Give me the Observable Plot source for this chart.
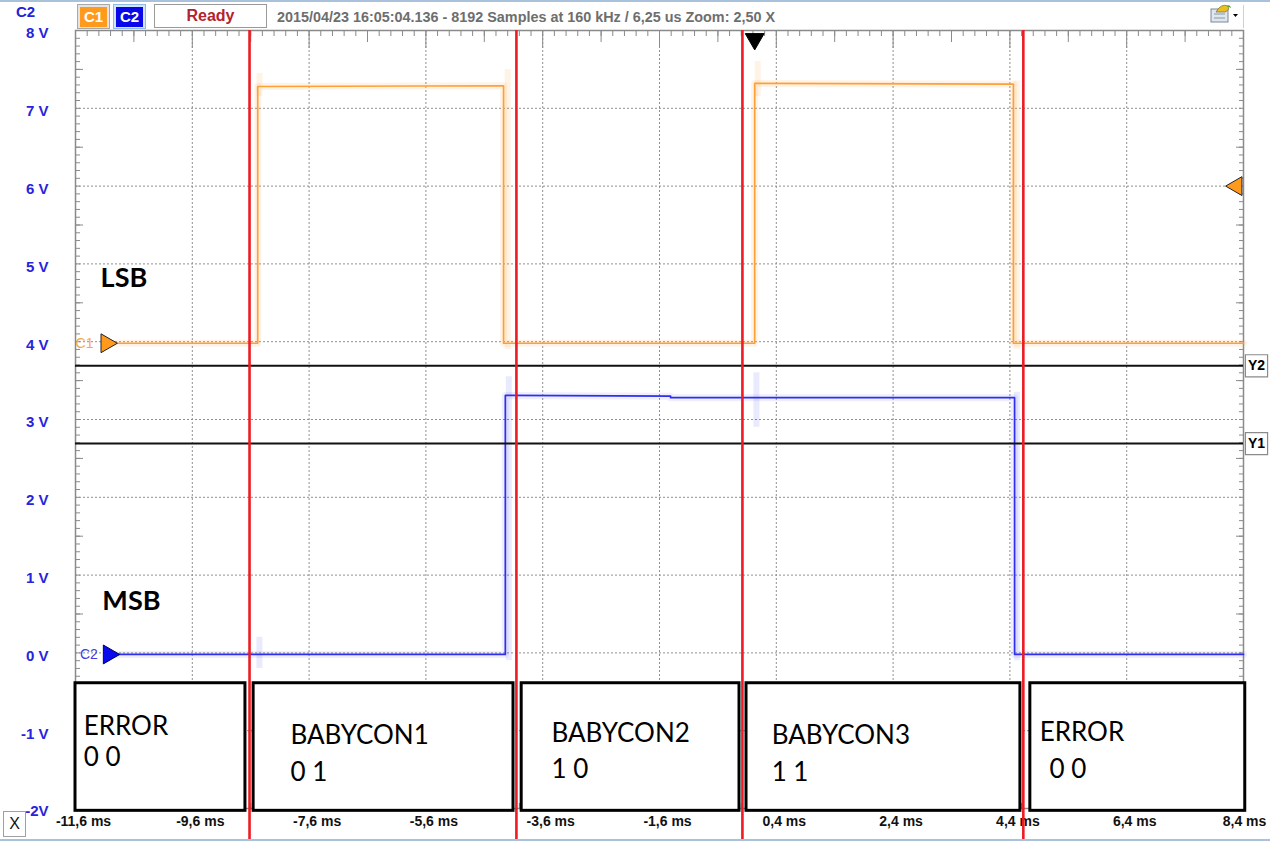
<!DOCTYPE html>
<html><head><meta charset="utf-8">
<script src="https://cdn.jsdelivr.net/npm/d3@7"></script>
<script src="https://cdn.jsdelivr.net/npm/@observablehq/plot@0.6"></script>
<style>
body{margin:0;background:#fff;width:1270px;height:841px;overflow:hidden;position:relative;font-family:"Liberation Sans",Arial,sans-serif;}
#chart{position:absolute;left:0;top:0;}
.a{position:absolute;box-sizing:border-box;}
</style></head><body>
<div id="chart"></div>
<div class="a" style="left:0;top:0;width:1270px;height:2px;background:#aac1dc"></div>
<div class="a" style="left:0;top:839px;width:1270px;height:2px;background:#aac1dc"></div>
<div class="a" style="left:16px;top:3px;font:bold 15px 'Liberation Sans';color:#2323d8">C2</div>
<div class="a" style="left:77px;top:4px;width:33px;height:25px;border:1px solid #a8a8a8;background:#e4e4e4"></div>
<div class="a" style="left:80px;top:7px;width:27px;height:20px;background:#ff9a1c;color:#fff;font:bold 15px 'Liberation Sans';text-align:center;line-height:20px">C1</div>
<div class="a" style="left:113px;top:4px;width:33px;height:25px;border:1px solid #8fbbe8;background:#d3e6f8"></div>
<div class="a" style="left:116px;top:7px;width:27px;height:20px;background:#0808e8;color:#fff;font:bold 15px 'Liberation Sans';text-align:center;line-height:20px">C2</div>
<div class="a" style="left:154px;top:4px;width:113px;height:24px;border:1.5px solid #9a9a9a;background:#fff;color:#b3232c;font:bold 16px 'Liberation Sans';text-align:center;line-height:22px">Ready</div>
<svg class="a" style="left:0;top:0" width="1270" height="30">
<text x="277" y="22" textLength="498" lengthAdjust="spacingAndGlyphs" font-family="Liberation Sans" font-weight="bold" font-size="15" fill="#6e6e6e">2015/04/23 16:05:04.136 - 8192 Samples at 160 kHz / 6,25 us Zoom: 2,50 X</text>
<rect x="1211" y="9" width="17" height="13" fill="#dfe6ee" stroke="#7a8794"/>
<line x1="1214" y1="14" x2="1225" y2="14" stroke="#8899aa"/><line x1="1214" y1="18" x2="1225" y2="18" stroke="#8899aa"/>
<path d="M1216,12 q5,-9 12,-6 q2,4 -3,6 z" fill="#e8c020" stroke="#6b5a10" stroke-width="0.6"/>
<path d="M1227,6 q3,-2 4,2 z" fill="#3aa030"/>
<path d="M1233,14 l5,0 l-2.5,3 z" fill="#000"/>
<line x1="1243.5" y1="5" x2="1243.5" y2="28" stroke="#d0d0d0"/>
</svg>
<div class="a" style="left:3px;top:811px;width:23px;height:26px;border:1px solid #a0a0a0;background:#fff;font:16px 'Liberation Sans';text-align:center;line-height:24px;color:#111">X</div>
<script>
// ---- data ----
const xTicks = [-11.6, -9.6, -7.6, -5.6, -3.6, -1.6, 0.4, 2.4, 4.4, 6.4, 8.4];
const xTickLabels = ["-11,6 ms", "-9,6 ms", "-7,6 ms", "-5,6 ms", "-3,6 ms", "-1,6 ms", "0,4 ms", "2,4 ms", "4,4 ms", "6,4 ms", "8,4 ms"];
const yTicks = [8, 7, 6, 5, 4, 3, 2, 1, 0, -1, -2];
const yTickLabels = ["8 V", "7 V", "6 V", "5 V", "4 V", "3 V", "2 V", "1 V", "0 V", "-1 V", "-2V"];

// C1 (LSB) trace
const c1Time = [-11.07, -8.48, -8.48, -4.27, -4.27, 0.03, 0.03, 4.46, 4.46, 8.4];
const c1Volt = [3.98, 3.98, 7.28, 7.29, 3.98, 3.98, 7.32, 7.31, 3.98, 3.98];
// C2 (MSB) trace
const c2Time = [-11.03, -4.24, -4.24, -1.41, -1.41, 4.48, 4.48, 8.4];
const c2Volt = [-0.02, -0.02, 3.31, 3.30, 3.28, 3.28, -0.02, -0.02];

// faint ringing envelopes at the edges
const c1RingTime = [-8.45, -4.2, 0.08, 4.52];
const c1RingLow = [7.15, 3.9, 7.15, 3.9];
const c1RingHigh = [7.45, 7.5, 7.6, 7.35];
const c2RingTime = [-8.45, -4.18, 0.06, 4.52];
const c2RingLow = [-0.2, -0.1, 2.9, -0.1];
const c2RingHigh = [0.2, 3.55, 3.6, 3.35];

// cursors
const cursorNames = ["Y2", "Y1"];
const cursorVolt = [3.69, 2.69];

// red state boundaries (ms)
const boundaryTime = [-8.62, -4.05, -0.18, 4.63];

// state boxes
const boxStart = [-11.6, -8.55, -3.96, -0.11, 4.75];
const boxEnd = [-8.69, -4.10, -0.23, 4.58, 8.43];
const boxTop = -0.39, boxBottom = -2.03;
const stateNames = ["ERROR", "BABYCON1", "BABYCON2", "BABYCON3", "ERROR"];
const stateCodes = ["0 0", "0 1", "1 0", "1 1", "0 0"];
const nameTime = [-11.46, -7.92, -3.45, 0.32, 4.91];
const nameVolt = [-1.06, -1.165, -1.14, -1.165, -1.126];
const codeTime = [-11.46, -7.92, -3.45, 0.32, 5.08];
const codeVolt = [-1.45, -1.65, -1.61, -1.65, -1.61];

// channel labels
const chanNames = ["LSB", "MSB"];
const chanTime = [-11.17, -11.14];
const chanVolt = [4.7, 0.55];

// markers
const c1Marker = {t: -11.07, v: 3.98};
const c2Marker = {t: -11.03, v: -0.02};
const trigLevel = {t: 8.28, v: 6.0};
const trigTime = {t: 0.03, v: 7.89};

// ---- build ----
const c1 = c1Time.map((t, i) => ({t, v: c1Volt[i]}));
const c2 = c2Time.map((t, i) => ({t, v: c2Volt[i]}));
const c1Ring = c1RingTime.map((t, i) => ({t, lo: c1RingLow[i], hi: c1RingHigh[i]}));
const c2Ring = c2RingTime.map((t, i) => ({t, lo: c2RingLow[i], hi: c2RingHigh[i]}));
const boxes = boxStart.map((s, i) => ({s, e: boxEnd[i]}));
const names = stateNames.map((n, i) => ({n, t: nameTime[i], v: nameVolt[i]}));
const codes = stateCodes.map((n, i) => ({n, t: codeTime[i], v: codeVolt[i]}));
const chans = chanNames.map((n, i) => ({n, t: chanTime[i], v: chanVolt[i]}));
const cursors = cursorNames.map((n, i) => ({n, v: cursorVolt[i]}));

const xMinor = d3.range(0, 101).map(i => -11.6 + i * 0.2);
const xMid = d3.range(0, 10).map(i => -10.6 + i * 2);
const yMinor = d3.range(0, 101).map(i => -2 + i * 0.1);
const yMid = d3.range(0, 10).map(i => -1.5 + i);
const xInner = xTicks.slice(1, -1);
const yInner = yTicks.slice(1, -1);
const xLabelTicks = xTicks.slice(0, -1);
const xLastTick = xTicks.slice(-1);

const ORANGE = "#ffa036", BLUE = "#2e2ef2", RED = "#ec1b24", GRID = "#8f8f8f", AX = "#8a8a8a";
const noText = () => "";
const xFmt = d => xTickLabels[xTicks.indexOf(d)];

const plot = Plot.plot({
  width: 1270, height: 841,
  marginLeft: 75, marginRight: 27, marginTop: 30, marginBottom: 33,
  x: {domain: [-11.6, 8.4]},
  y: {domain: [-2, 8]},
  style: {fontFamily: "Liberation Sans, Arial, sans-serif", background: "transparent", overflow: "visible"},
  marks: [
    Plot.ruleX(xInner, {stroke: GRID, strokeWidth: 1, strokeDasharray: "2,2"}),
    Plot.ruleY(yInner, {stroke: GRID, strokeWidth: 1, strokeDasharray: "2,2"}),
    Plot.frame({stroke: AX, strokeWidth: 1.5}),
    // axis ticks (inward)
    Plot.axisX({anchor: "top", ticks: xMinor, tickSize: -5, tickFormat: noText, stroke: AX}),
    Plot.axisX({anchor: "top", ticks: xMid, tickSize: -11, tickFormat: noText, stroke: AX}),
    Plot.axisX({anchor: "top", ticks: xTicks, tickSize: -17, tickFormat: noText, stroke: AX}),
    Plot.axisX({anchor: "bottom", ticks: xMinor, tickSize: -5, tickFormat: noText, stroke: AX}),
    Plot.axisY({anchor: "left", ticks: yMinor, tickSize: -5, tickFormat: noText, stroke: AX}),
    Plot.axisY({anchor: "left", ticks: yMid, tickSize: -8, tickFormat: noText, stroke: AX}),
    Plot.axisY({anchor: "right", ticks: yMinor, tickSize: -5, tickFormat: noText, stroke: AX}),
    Plot.axisY({anchor: "right", ticks: yMid, tickSize: -8, tickFormat: noText, stroke: AX}),
    // tick labels
    Plot.axisY({anchor: "left", ticks: yTicks, tickSize: 0, tickPadding: 27, dy: 3,
      tickFormat: d => yTickLabels[yTicks.indexOf(d)], fill: "#2525dc", fontWeight: "bold", fontSize: 15}),
    Plot.axisX({anchor: "bottom", ticks: xLabelTicks, tickSize: 0, tickPadding: 8, dx: 8,
      tickFormat: xFmt, fill: "#111", fontWeight: "bold", fontSize: 14}),
    Plot.axisX({anchor: "bottom", ticks: xLastTick, tickSize: 0, tickPadding: 8, dx: 1,
      tickFormat: xFmt, fill: "#111", fontWeight: "bold", fontSize: 14}),
    // ringing halos
    Plot.ruleX(c1Ring, {x: "t", y1: "lo", y2: "hi", stroke: ORANGE, strokeWidth: 6, strokeOpacity: 0.13}),
    Plot.ruleX(c2Ring, {x: "t", y1: "lo", y2: "hi", stroke: BLUE, strokeWidth: 6, strokeOpacity: 0.1}),
    // traces
    Plot.line(c1, {x: "t", y: "v", stroke: ORANGE, strokeWidth: 7, strokeOpacity: 0.12}),
    Plot.line(c2, {x: "t", y: "v", stroke: BLUE, strokeWidth: 7, strokeOpacity: 0.08}),
    Plot.line(c1, {x: "t", y: "v", stroke: ORANGE, strokeWidth: 1.7}),
    Plot.line(c2, {x: "t", y: "v", stroke: BLUE, strokeWidth: 1.7}),
    // cursors
    Plot.ruleY(cursors, {y: "v", stroke: "#111", strokeWidth: 2}),
    Plot.dot(cursors, {y: "v", frameAnchor: "right", dx: 13, symbol: "square", r: 12.5, fill: "#fff", stroke: "#8a8a8a", strokeWidth: 1.2}),
    Plot.text(cursors, {y: "v", text: "n", frameAnchor: "right", textAnchor: "middle", dx: 13, fill: "#000", fontWeight: "bold", fontSize: 14}),
    // state boxes
    Plot.rect(boxes, {x1: "s", x2: "e", y1: boxTop, y2: boxBottom, fill: "#fff", stroke: "#000", strokeWidth: 3}),
    Plot.text(names, {x: "t", y: "v", text: "n", textAnchor: "start", lineAnchor: "bottom", fontFamily: "Lato", fontSize: 26, fill: "#000"}),
    Plot.text(codes, {x: "t", y: "v", text: "n", textAnchor: "start", lineAnchor: "bottom", fontFamily: "Lato", fontSize: 26, fill: "#000"}),
    // channel names
    Plot.text(chans, {x: "t", y: "v", text: "n", textAnchor: "start", lineAnchor: "bottom", fontFamily: "Lato", fontWeight: "bold", fontSize: 27, fill: "#000"}),
    // channel markers
    Plot.text([c1Marker], {x: "t", y: "v", text: () => "C1", dx: -13, textAnchor: "end", fill: "#f6a84e", fontSize: 14}),
    Plot.text([c2Marker], {x: "t", y: "v", text: () => "C2", dx: -11, textAnchor: "end", fill: "#3d3de0", fontSize: 14}),
    Plot.dot([c1Marker], {x: "t", y: "v", symbol: "triangle", rotate: 90, r: 7, fill: "#ff9a1c", stroke: "#222", strokeWidth: 1}),
    Plot.dot([c2Marker], {x: "t", y: "v", symbol: "triangle", rotate: 90, r: 7, fill: "#0a0aee", stroke: "#000060", strokeWidth: 1}),
    Plot.dot([trigLevel], {x: "t", y: "v", symbol: "triangle", rotate: -90, r: 7, fill: "#ff9a1c", stroke: "#222", strokeWidth: 1}),
    Plot.dot([trigTime], {x: "t", y: "v", symbol: "triangle", rotate: 180, r: 7, fill: "#000", stroke: "#000", strokeWidth: 1}),
    // red boundaries (run down to the bottom of the window)
    Plot.ruleX(boundaryTime, {y1: 8, y2: -2.42, stroke: RED, strokeWidth: 2.6})
  ]
});
document.getElementById("chart").appendChild(plot);
</script>
</body></html>
